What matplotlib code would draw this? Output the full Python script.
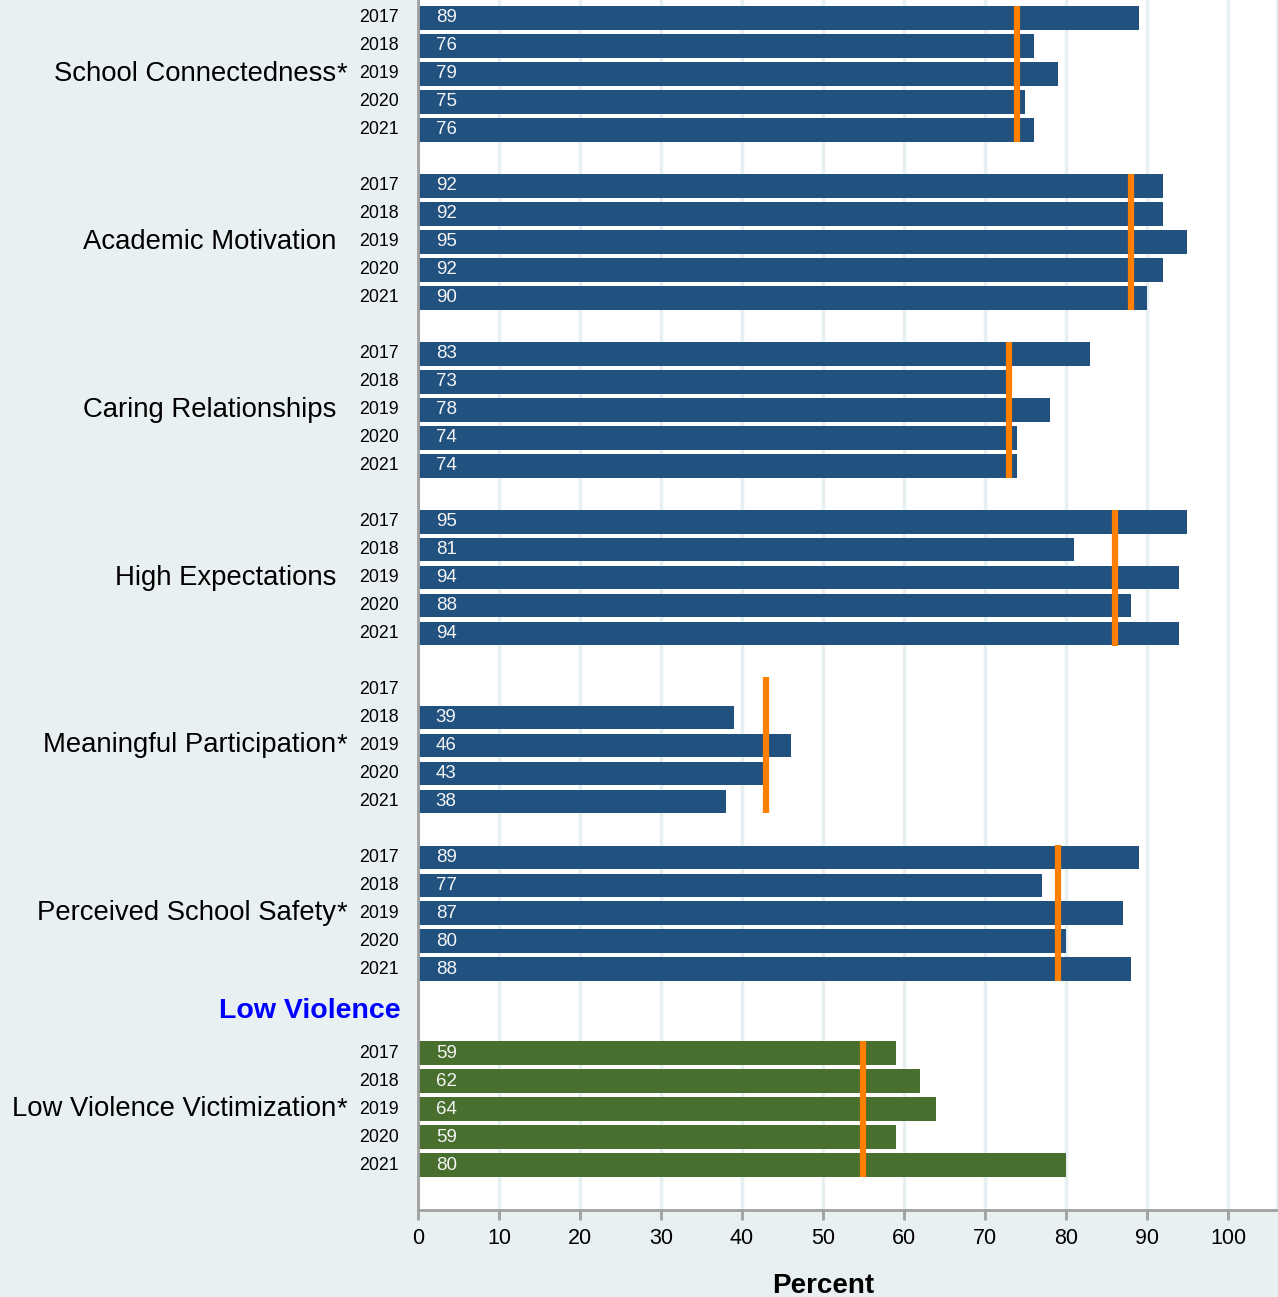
import numpy as np
import matplotlib.pyplot as plt

plt.rcParams['font.family'] = ['Liberation Sans', 'DejaVu Sans']

years = ['2017', '2018', '2019', '2020', '2021']
groups = ['School Connectedness', 'Academic Motivation', 'Caring Relationships',
          'High Expectations', 'Meaningful Participation', 'Perceived School Safety',
          'Low Violence Victimization']
starred = [True, False, False, False, True, True, True]
values = [
    [89, 76, 79, 75, 76],
    [92, 92, 95, 92, 90],
    [83, 73, 78, 74, 74],
    [95, 81, 94, 88, 94],
    [None, 39, 46, 43, 38],
    [89, 77, 87, 80, 88],
    [59, 62, 64, 59, 80],
]
reference = [74, 88, 73, 86, 43, 79, 55]
header = 'Low Violence'

blue = '#20517f'
green = '#486f2e'
orange = '#ff7f00'
bg = '#e9f0f2'

fig = plt.figure(figsize=(12.78, 12.97), dpi=100, facecolor=bg)
ax = fig.add_axes([418 / 1278, 1 - 1210 / 1297, (1276 - 418) / 1278, 1210 / 1297])
ax.set_facecolor('white')

bar_h = 0.85
for g, name in enumerate(groups):
    base = 6 * g if g < 6 else 37
    color = blue if g < 6 else green
    for i, yr in enumerate(years):
        y = base + i
        v = values[g][i]
        if v is not None:
            ax.barh(y, v, height=bar_h, color=color, zorder=2)
            ax.text(2.2, y, str(v), color='#f4f4f4', fontsize=13.5,
                    va='center', ha='left', zorder=4)
        ax.text(-2.4, y, yr, fontsize=12.8, va='center', ha='right')
    ax.plot([reference[g], reference[g]], [base - 0.43, base + 4.43],
            color=orange, lw=4.5, solid_capstyle='butt', zorder=3)
    ax.text(-10.1, base + 2, name, fontsize=19.8, va='center', ha='right')
    if starred[g]:
        ax.text(-10.1, base + 2, '*', fontsize=19.8, va='center', ha='left')

ax.text(-2.2, 35.5, header, fontsize=20.5, fontweight='bold', color='#0000ff',
        va='center', ha='right')

ax.set_xlim(0, 105.93)
ax.set_ylim(42.6, -0.64)
ax.set_xticks(np.arange(0, 101, 10))
ax.set_yticks([])
ax.tick_params(axis='x', labelsize=15.5, length=7, width=2, color='#a0a0a0', pad=6)
ax.grid(axis='x', color='#e6eff2', lw=2.5, zorder=0)
ax.set_axisbelow(True)
for s in ['top', 'right']:
    ax.spines[s].set_visible(False)
for s in ['left', 'bottom']:
    ax.spines[s].set_color('#a0a0a0')
    ax.spines[s].set_linewidth(2)

ax.text(50, 45.3, 'Percent', fontsize=20, fontweight='bold', ha='center',
        va='center', clip_on=False)

fig.savefig('out.png', dpi=100, facecolor=bg)
